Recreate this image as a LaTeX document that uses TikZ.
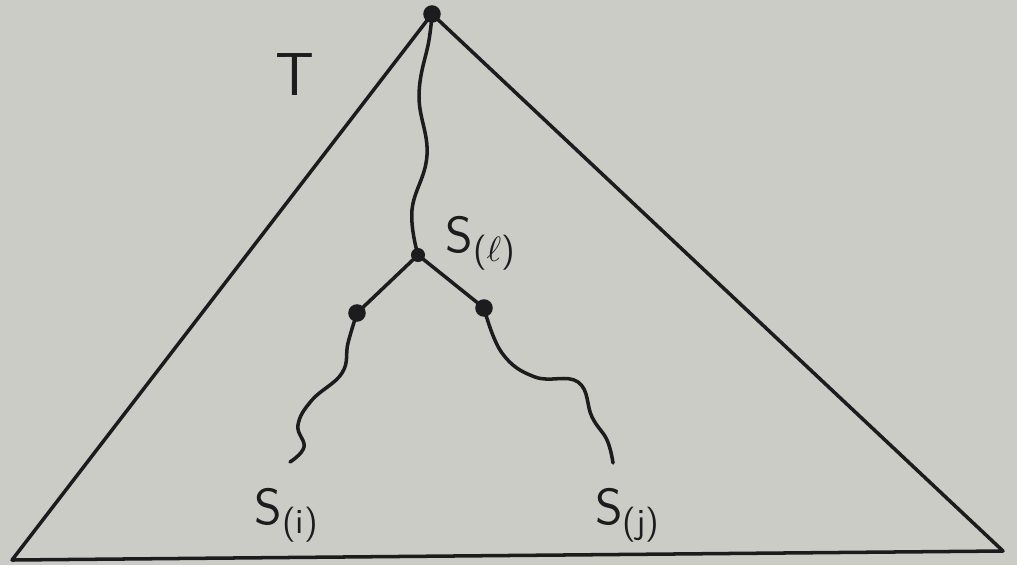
\documentclass[tikz,border=0pt]{standalone}
\usepackage{amsmath}
\usetikzlibrary{calc, positioning}

\definecolor{paper}{RGB}{204,204,199}
\definecolor{ink}{RGB}{28,28,30}

\begin{document}
\begin{tikzpicture}[line width=1pt, line cap=round, line join=round,
  dot/.style={circle, fill=ink, inner sep=0pt, minimum size=5pt},
  lbl/.style={text=ink, font=\Large\sffamily}]
\useasboundingbox (0,0) rectangle (10.17,5.65);
\fill[paper] (0,0) rectangle (10.17,5.65);

% the tree T
\coordinate (L) at (0.12,0.05);
\coordinate (R) at (10.03,0.14);
\node[dot] (top) at (4.32,5.51) {};
\draw[ink] (L) -- (top.center) -- (R) -- cycle;
\node[lbl, font=\LARGE\sffamily] (T) at (2.95,4.90) {T};

% path from the root to S(l)
\node[dot, minimum size=4pt] (sl) at (4.18,3.10) {};
\coordinate (p1) at (4.29,5.25);
\coordinate (p2) at (4.19,4.70);
\coordinate (p3) at (4.27,4.10);
\coordinate (p4) at (4.12,3.55);
\draw[ink] plot[smooth, tension=0.7] coordinates {(top.center) (p1) (p2) (p3) (p4) (sl.center)};
\node[lbl, anchor=west] (lbl-l) at (4.32,3.22) {S$_{\textsf{(}\ell\textsf{)}}$};

% the two children
\node[dot] (ci) at (3.57,2.52) {};
\node[dot] (cj) at (4.84,2.57) {};
\draw[ink] (ci.center) -- (sl.center) -- (cj.center);

% wiggly path down to S(i)
\coordinate (si) at (2.90,1.03);
\coordinate (a1) at (3.48,2.22);
\coordinate (a2) at (3.42,1.92);
\coordinate (a3) at (3.12,1.65);
\coordinate (a4) at (2.98,1.40);
\coordinate (a5) at (3.04,1.18);
\draw[ink] plot[smooth, tension=0.7] coordinates {(ci.center) (a1) (a2) (a3) (a4) (a5) (si)};
\node[lbl, anchor=north] (lbl-i) at (2.87,0.90) {S$_{\textsf{(i)}}$};

% wiggly path down to S(j)
\coordinate (sj) at (6.13,1.02);
\coordinate (b1) at (5.02,2.12);
\coordinate (b2) at (5.35,1.88);
\coordinate (b3) at (5.78,1.83);
\coordinate (b4) at (5.92,1.48);
\coordinate (b5) at (6.07,1.25);
\draw[ink] plot[smooth, tension=0.7] coordinates {(cj.center) (b1) (b2) (b3) (b4) (b5) (sj)};
\node[lbl, anchor=north] (lbl-j) at (6.28,0.90) {S$_{\textsf{(j)}}$};
\end{tikzpicture}
\end{document}
